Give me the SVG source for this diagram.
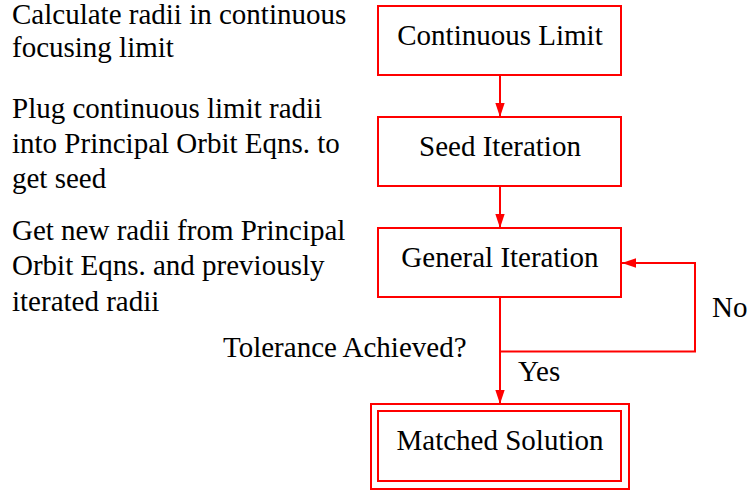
<svg xmlns="http://www.w3.org/2000/svg" width="752" height="493" viewBox="0 0 752 493">
<style>
text{font-size:29px;fill:#000}
.box{fill:none;stroke:#ff0000;stroke-width:2}
.c{text-anchor:middle}
.ln{fill:none;stroke:#ff0000;stroke-width:2}
</style>
<defs>
<marker id="ah" markerUnits="userSpaceOnUse" markerWidth="14" markerHeight="22" refX="21" refY="7" orient="auto" viewBox="0 0 21 14">
<path d="M0,0 L21,7 L0,14 Z" fill="#ff0000"/>
</marker>
</defs>
<rect width="752" height="493" fill="#fff"/>
<g font-family="Liberation Serif, Times New Roman, serif">
<g id="notes">
<text x="12" y="24">Calculate radii in continuous</text>
<text x="12" y="57">focusing limit</text>
<text x="12" y="118">Plug continuous limit radii</text>
<text x="12" y="153">into Principal Orbit Eqns. to</text>
<text x="12" y="188">get seed</text>
<text x="12" y="240">Get new radii from Principal</text>
<text x="12" y="275">Orbit Eqns. and previously</text>
<text x="12" y="311">iterated radii</text>
</g>
<g id="continuous-limit">
<rect class="box" x="378" y="6" width="243" height="69"/>
<text class="c" x="500" y="45">Continuous Limit</text>
</g>
<g id="seed-iteration">
<rect class="box" x="378" y="117" width="243" height="69"/>
<text class="c" x="500" y="156">Seed Iteration</text>
</g>
<g id="general-iteration">
<rect class="box" x="378" y="228" width="243" height="69"/>
<text class="c" x="500" y="267">General Iteration</text>
</g>
<g id="matched-solution">
<rect class="box" x="371" y="404" width="258" height="85"/>
<rect class="box" x="378" y="411" width="243" height="70"/>
<text class="c" x="500" y="450">Matched Solution</text>
</g>
<g id="connectors">
<path class="ln" d="M500,75 V117" marker-end="url(#ah)"/>
<path class="ln" d="M500,186 V228" marker-end="url(#ah)"/>
<path class="ln" d="M500,297 V351.5 H695 V263 H622" marker-end="url(#ah)"/>
<path class="ln" d="M500,351 V404" marker-end="url(#ah)"/>
<text x="223" y="357">Tolerance Achieved?</text>
<text x="518" y="381">Yes</text>
<text x="712" y="317">No</text>
</g>
</g>
</svg>
